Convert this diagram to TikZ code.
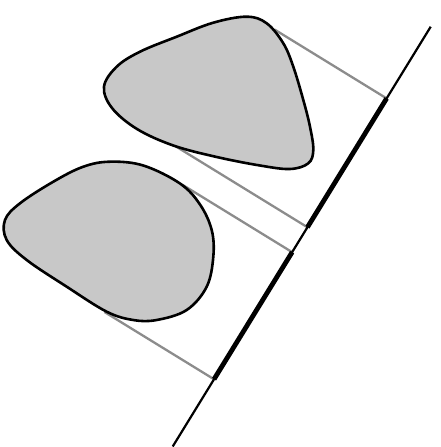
\documentclass[tikz,border=0pt]{standalone}
\usetikzlibrary{calc}
\definecolor{shapefill}{HTML}{C8C8C8}
\definecolor{projgray}{HTML}{8C8C8C}
\tikzset{
  blob/.style={draw=black, line width=2.6pt, fill=shapefill},
  projline/.style={draw=projgray, line width=2.3pt},
  axisline/.style={draw=black, line width=2.2pt},
  shadow/.style={draw=black, line width=4.8pt},
}
\begin{document}
\begin{tikzpicture}[x=1pt,y=-1pt]
\useasboundingbox (0,0) rectangle (441,447);
% axis
\coordinate (A) at (430.7,26.7);
\coordinate (B) at (172.7,446.5);
% tangent points
\coordinate (t1) at (274.5,29.5);
\coordinate (t2) at (176.0,146.5);
\coordinate (t3) at (182.0,184.5);
\coordinate (t4) at (104.5,312.0);
% feet on axis
\coordinate (f1) at ($(A)!(t1)!(B)$);
\coordinate (f2) at ($(A)!(t2)!(B)$);
\coordinate (f3) at ($(A)!(t3)!(B)$);
\coordinate (f4) at ($(A)!(t4)!(B)$);
% projection lines
\draw[projline] (t1) -- (f1);
\draw[projline] (t2) -- (f2);
\draw[projline] (t3) -- (f3);
\draw[projline] (t4) -- (f4);
% upper shape
\draw[blob] plot[smooth cycle, tension=0.6] coordinates {
 (246.7,16.7) (266.7,23.3) (283.3,43.3) (293.3,66.7) (303.3,100) (310,126.7)
 (313.3,150) (308.3,163.3) (290,169) (260,165.5) (216.7,157) (173.3,145.5)
 (137,129) (112,108) (104,86.7) (116.7,66.7) (140,51.7) (176.7,36.7) (213.3,22.7)};
% lower shape
\draw[blob] plot[smooth cycle, tension=0.6] coordinates {
 (110,161.7) (143.3,165.5) (180,183.5) (200,204.5) (211.7,230) (213.3,256.7)
 (206.7,286.7) (186.7,310) (156.7,320) (133.3,320) (106.7,311.7) (66.7,286.7)
 (26.7,260) (6.7,240) (5,220) (20,203.3) (53.3,181.7) (83.3,166.7)};
% axis and shadows
\draw[axisline] (A) -- (B);
\draw[shadow] (f1) -- (f2);
\draw[shadow] (f3) -- (f4);
\end{tikzpicture}
\end{document}
